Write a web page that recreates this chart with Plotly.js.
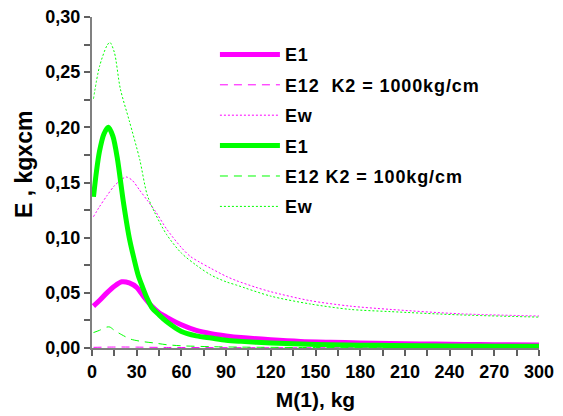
<!DOCTYPE html>
<html>
<head>
<meta charset="utf-8">
<script src="https://cdn.plot.ly/plotly-3.0.1.min.js"></script>
<style>html,body{margin:0;padding:0;background:#fff}#chart{width:563px;height:416px}
.legendtext{letter-spacing:0.9px}</style>
</head>
<body>
<div id="chart"></div>
<script>
// Magenta series (K2 = 1000 kg/cm)
var mE1_x = [1, 5, 10, 15, 20, 25, 30, 35, 40, 45, 50, 60, 70, 80, 90, 100, 120, 140, 160, 180, 200, 220, 240, 260, 280, 300];
var mE1_y = [0.038, 0.043, 0.050, 0.056, 0.060, 0.059, 0.055, 0.046, 0.038, 0.032, 0.028, 0.021, 0.016, 0.013, 0.011, 0.0095, 0.0075, 0.006, 0.0052, 0.0046, 0.0041, 0.0037, 0.0034, 0.0031, 0.0029, 0.0027];
var mE12_x = [1, 10, 20, 30, 50, 100, 200, 300];
var mE12_y = [0.0006, 0.0008, 0.0009, 0.0008, 0.0005, 0.0003, 0.0002, 0.0001];
var mEw_x = [1, 5, 10, 15, 20, 23, 27, 32, 37, 43, 50, 60, 66, 72, 80, 90, 97, 110, 120, 146, 173, 200, 247, 300];
var mEw_y = [0.119, 0.128, 0.138, 0.147, 0.153, 0.155, 0.152, 0.143, 0.134, 0.123, 0.108, 0.091, 0.083, 0.078, 0.072, 0.065, 0.061, 0.055, 0.051, 0.043, 0.038, 0.035, 0.031, 0.029];

// Green series (K2 = 100 kg/cm)
var gE1_x = [1, 3, 5, 8, 11, 14, 17, 21, 25, 28, 31, 34, 37, 40, 45, 50, 60, 70, 80, 90, 100, 120, 140, 160, 180, 200, 240, 300];
var gE1_y = [0.137, 0.160, 0.178, 0.194, 0.200, 0.192, 0.172, 0.133, 0.100, 0.082, 0.066, 0.055, 0.045, 0.037, 0.030, 0.024, 0.015, 0.011, 0.009, 0.007, 0.006, 0.0045, 0.0036, 0.003, 0.0026, 0.0023, 0.0019, 0.0015];
var gE12_x = [1, 5, 10, 12, 15, 20, 26, 33, 42, 50, 60, 80, 100, 150, 200, 300];
var gE12_y = [0.014, 0.016, 0.019, 0.019, 0.016, 0.012, 0.008, 0.006, 0.0045, 0.003, 0.002, 0.0012, 0.0008, 0.0004, 0.0003, 0.0002];
var gEw_x = [1, 5, 10, 12, 15, 19, 25, 32, 37, 42, 50, 60, 70, 80, 90, 97, 120, 146, 173, 200, 247, 300];
var gEw_y = [0.226, 0.255, 0.274, 0.277, 0.268, 0.235, 0.206, 0.171, 0.139, 0.123, 0.103, 0.086, 0.075, 0.066, 0.060, 0.057, 0.047, 0.040, 0.035, 0.033, 0.030, 0.028];

var names = ['E1', 'E12  K2 = 1000kg/cm', 'Ew', 'E1', 'E12 K2 = 100kg/cm', 'Ew'];
var xTitle = 'M(1), kg';
var yTitle = 'E , kgxcm';

var MAG = '#ff00ff', GRN = '#00ff00';
var FONT = 'Liberation Sans, Arial, sans-serif';

function tr(x, y, name, color, width, dash, grp) {
  return {x: x, y: y, name: name, type: 'scatter', mode: 'lines',
    line: {color: color, width: width, dash: dash, shape: 'spline', smoothing: 0.8},
    legendgroup: grp};
}

var data = [
  tr(mE1_x, mE1_y, names[0], MAG, 5, 'solid', 'a'),
  tr(mE12_x, mE12_y, names[1], MAG, 1, '8px,6px', 'b'),
  tr(mEw_x, mEw_y, names[2], MAG, 1, '2px,2px', 'c'),
  tr(gE1_x, gE1_y, names[3], GRN, 5, 'solid', 'd'),
  tr(gE12_x, gE12_y, names[4], GRN, 1, '8px,6px', 'e'),
  tr(gEw_x, gEw_y, names[5], GRN, 1, '2px,2px', 'f')
];

var axisCommon = {
  showgrid: false, zeroline: false, showline: true, linecolor: '#808080', linewidth: 2,
  ticks: 'outside', ticklen: 6, tickwidth: 2, tickcolor: '#606060',
  tickfont: {family: FONT, size: 18, color: '#000', weight: 'bold'}
};

var layout = {
  width: 563, height: 416,
  margin: {l: 92, r: 24, t: 17, b: 68},
  paper_bgcolor: '#fff', plot_bgcolor: '#fff',
  separators: ',.',
  showlegend: true,
  legend: {x: 0.275, xanchor: 'left', y: 0.942, yanchor: 'top', bgcolor: 'rgba(0,0,0,0)',
    font: {family: FONT, size: 18, color: '#000', weight: 'bold'},
    itemwidth: 60,
    traceorder: 'grouped', tracegroupgap: 4},
  xaxis: Object.assign({}, axisCommon, {
    range: [0, 300], dtick: 30, tick0: 0,
    minor: {dtick: 15, ticks: 'outside', ticklen: 6, tickwidth: 2, tickcolor: '#606060'},
    title: {text: xTitle, font: {family: FONT, size: 21, color: '#000', weight: 'bold'}, standoff: 12}
  }),
  yaxis: Object.assign({}, axisCommon, {
    range: [0, 0.30], dtick: 0.05, tick0: 0, tickformat: '.2f',
    minor: {dtick: 0.025, ticks: 'outside', ticklen: 6, tickwidth: 2, tickcolor: '#606060'}
  }),
  annotations: [{
    text: yTitle, xref: 'paper', yref: 'paper', x: -0.152, y: 0.553,
    xanchor: 'center', yanchor: 'middle', textangle: -90, showarrow: false,
    font: {family: FONT, size: 23, color: '#000', weight: 'bold'}
  }]
};

Plotly.newPlot('chart', data, layout, {displayModeBar: false, staticPlot: true});
</script>
</body>
</html>
